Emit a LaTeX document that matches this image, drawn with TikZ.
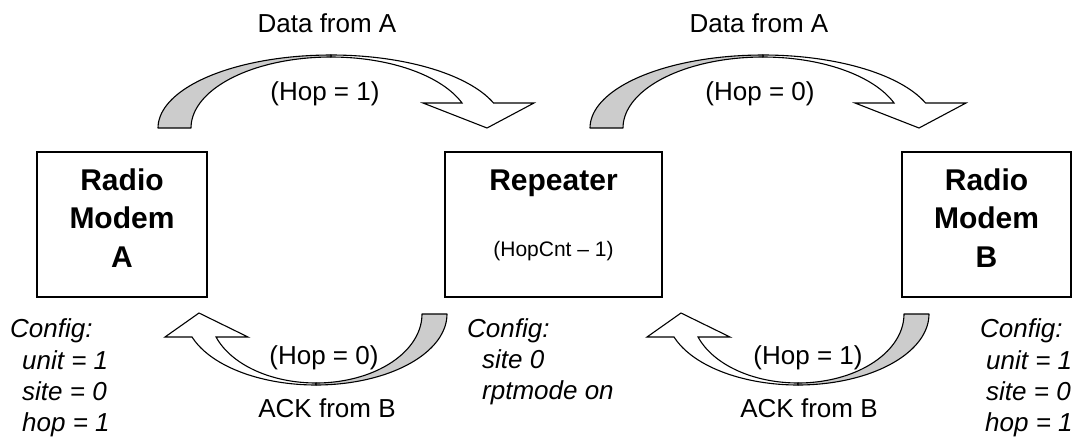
\documentclass[tikz,border=0pt]{standalone}
\usepackage{fontspec}
\setmainfont{Liberation Sans}
\definecolor{bandgray}{RGB}{204,204,204}
\begin{document}
\begin{tikzpicture}[x=1pt,y=-1pt,
  box/.style={draw, line width=1.3pt, minimum width=170, minimum height=145, inner sep=0, align=center, font=\fontsize{30}{38.5}\selectfont\bfseries},
  lbl/.style={font=\fontsize{26}{31}\selectfont, inner sep=0, anchor=base},
  small/.style={font=\fontsize{21}{25}\selectfont, inner sep=0, anchor=base},
  boldlbl/.style={font=\fontsize{30}{36}\selectfont\bfseries, inner sep=0, anchor=base},
  cfg/.style={font=\fontsize{26}{31}\selectfont\itshape, inner sep=0, anchor=base west},
  grayband/.style={fill=bandgray, draw=black, line width=1.1pt, line join=round},
  whiteband/.style={fill=white, draw=black, line width=1.1pt, line join=miter}]
\useasboundingbox (0,0) rectangle (1087,437);

% ---------- top curved arrows (data) ----------
\foreach \off in {0,432}{
  \begin{scope}[xshift=\off]
    \filldraw[whiteband] plot[domain=90:20.03, samples=40] ({331+173*cos(\x)},{128-73*sin(\x)})
      -- (534,103) -- (487,128) -- (423,103)
      -- plot[domain=20.62:90, samples=40] ({331+140*cos(\x)},{128-71*sin(\x)}) -- cycle;
    \filldraw[grayband] plot[domain=180:90, samples=40] ({331+173*cos(\x)},{128-73*sin(\x)})
      -- plot[domain=90:180, samples=40] ({331+140*cos(\x)},{128-71*sin(\x)}) -- cycle;
  \end{scope}
}

% ---------- bottom curved arrows (ACK) ----------
\foreach \off in {0,482}{
  \begin{scope}[xshift=\off]
    \filldraw[whiteband] plot[domain=90:161.09, samples=40] ({316+131*cos(\x)},{314+71*sin(\x)})
      -- (165,337) -- (199,313) -- (248,337)
      -- plot[domain=160.53:90, samples=40] ({316+106*cos(\x)},{314+69*sin(\x)}) -- cycle;
    \filldraw[grayband] plot[domain=0:90, samples=40] ({316+131*cos(\x)},{314+71*sin(\x)})
      -- plot[domain=90:0, samples=40] ({316+106*cos(\x)},{314+69*sin(\x)}) -- cycle;
  \end{scope}
}

% ---------- boxes ----------
\node[box] (A) at (122,224.5) {\rule{0pt}{38pt}Radio\\Modem\\A\rule[-30pt]{0pt}{30pt}};
\node[box, minimum width=217] (R) at (553.5,224.5) {};
\node[boldlbl] (Rtitle) at (553.5,190) {Repeater};
\node[small] (Rhop) at (553.5,256) {(HopCnt – 1)};
\node[box, minimum width=169] (B) at (986.5,224.5) {\rule{0pt}{38pt}Radio\\Modem\\B\rule[-30pt]{0pt}{30pt}};

% ---------- arrow labels ----------
\node[lbl] (d1) at (327,32) {Data from A};
\node[lbl] (d2) at (759,32) {Data from A};
\node[lbl] (h1) at (325,100) {(Hop = 1)};
\node[lbl] (h2) at (760,100) {(Hop = 0)};
\node[lbl] (h3) at (324,364) {(Hop = 0)};
\node[lbl] (h4) at (808,364) {(Hop = 1)};
\node[lbl] (k1) at (327,417) {ACK from B};
\node[lbl] (k2) at (809,417) {ACK from B};

% ---------- config texts ----------
\node[cfg] (ca0) at (10,337) {Config:};
\node[cfg] (ca1) at (22,369) {unit = 1};
\node[cfg] (ca2) at (22,400) {site = 0};
\node[cfg] (ca3) at (22,431) {hop = 1};

\node[cfg] (cr0) at (467,337) {Config:};
\node[cfg] (cr1) at (482,368) {site 0};
\node[cfg] (cr2) at (482,399) {rptmode on};

\node[cfg] (cb0) at (980,337) {Config:};
\node[cfg] (cb1) at (986,369) {unit = 1};
\node[cfg] (cb2) at (986,400) {site = 0};
\node[cfg] (cb3) at (985,431) {hop = 1};
\end{tikzpicture}
\end{document}
